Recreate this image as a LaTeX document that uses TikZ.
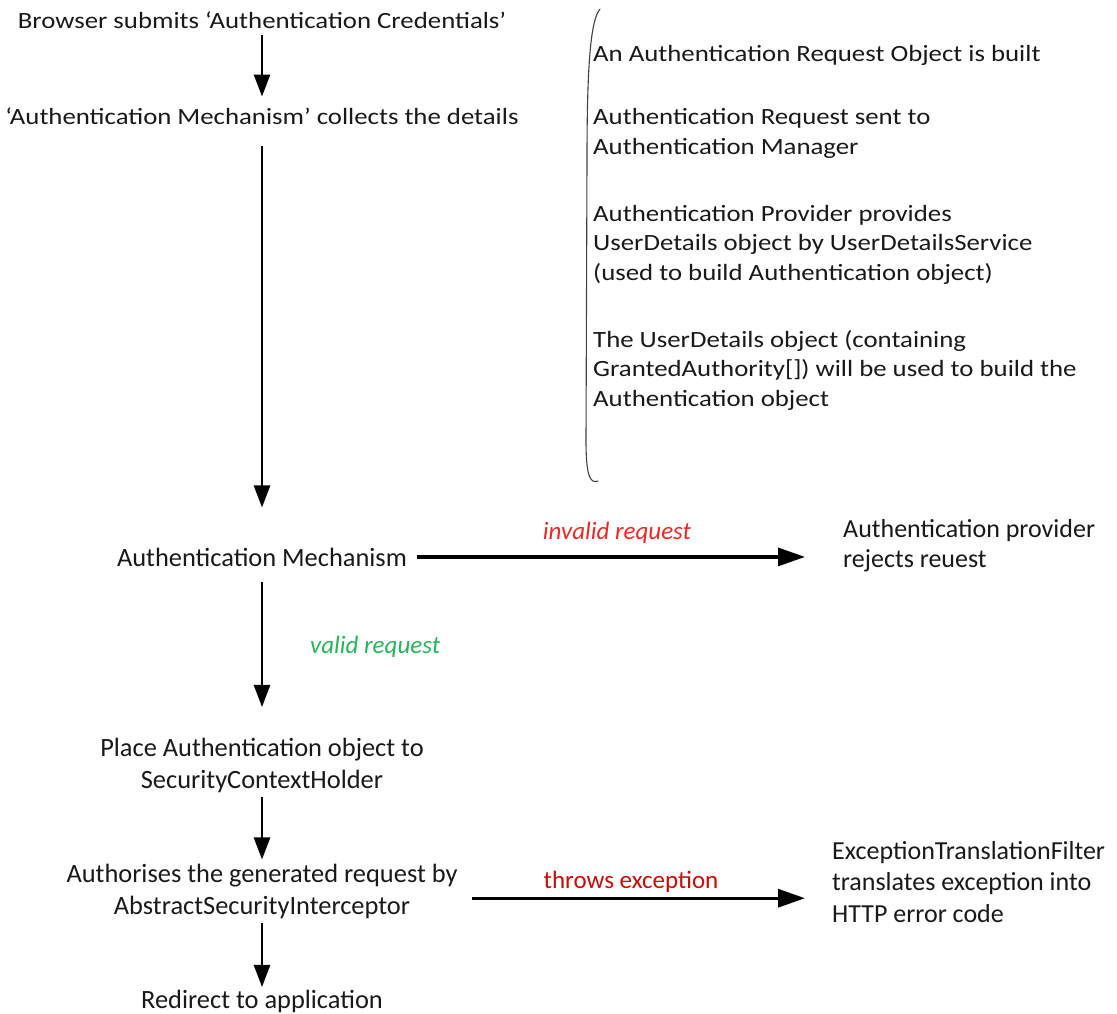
\documentclass[tikz,border=0pt]{standalone}
\usepackage{fontspec}
\setmainfont{Carlito}
\newfontfamily\widefont{Carlito}[FakeStretch=1.15]
\usetikzlibrary{arrows.meta}
\definecolor{invred}{RGB}{235,40,40}
\definecolor{excred}{RGB}{200,10,10}
\definecolor{okgreen}{RGB}{40,180,90}
\definecolor{txt}{RGB}{25,25,25}
\begin{document}
\begin{tikzpicture}[x=1pt,y=-1pt,
  % multi-line nodes are placed by the baseline of their last line
  upper/.style={inner sep=0pt, text=txt, font=\widefont\fontsize{23.3}{29.5}\selectfont, align=center, anchor=base},
  upperl/.style={upper, align=left, anchor=base west},
  lower/.style={inner sep=0pt, text=txt, font=\fontsize{26.4}{31.5}\selectfont, align=center, anchor=base},
  lowerl/.style={lower, align=left, anchor=base west},
  vflow/.style={line width=2.6pt, -{Triangle[length=22pt,width=16pt]}},
  hflow/.style={line width=3.2pt, -{Triangle[length=27pt,width=18pt]}},
  tag/.style={inner sep=0pt, font=\fontsize{25}{29}\selectfont}]
\useasboundingbox (0,0) rectangle (1117,1013);

% main column
\node[upper] (browser) at (262,28) {Browser submits ‘Authentication Credentials’};
\node[upper] (collect) at (262,124.5) {‘Authentication Mechanism’ collects the details};
\node[lower] (mech) at (262,566) {Authentication Mechanism};
\node[lower] (place) at (262,788) {Place Authentication object to\\SecurityContextHolder};
\node[lower] (authz) at (262,914) {Authorises the generated request by\\AbstractSecurityInterceptor};
\node[lower] (redirect) at (262,1008) {Redirect to application};

% outcomes on the right
\node[lowerl, font=\fontsize{26}{29.5}\selectfont] (reject) at (843,567) {Authentication provider\\rejects reuest};
\node[lowerl, font=\fontsize{26}{31.5}\selectfont] (etf) at (832,922) {ExceptionTranslationFilter\\translates exception into\\HTTP error code};

% notes beside the brace
\node[upperl] (note1) at (593,61) {An Authentication Request Object is built};
\node[upperl] (note2) at (593,154) {Authentication Request sent to\\Authentication Manager};
\node[upperl] (note3) at (593,280) {Authentication Provider provides\\UserDetails object by UserDetailsService\\(used to build Authentication object)};
\node[upperl] (note4) at (593,406) {The UserDetails object (containing\\GrantedAuthority[]) will be used to build the\\Authentication object};

% brace
\draw[line width=1.1pt, black!75, line cap=round]
  (600,9) .. controls (591,20) and (587,60) .. (587,160)
  -- (586,440) .. controls (586,476) and (590,484) .. (598,481);

% vertical flow
\draw[vflow, shorten <=7pt, shorten >=11pt] (browser.south) -- (collect.north);
\draw[vflow, shorten <=21pt, shorten >=40pt] (collect.south) -- (mech.north);
\draw[vflow, shorten <=16pt, shorten >=31pt] (mech.south) -- (place.north);
\draw[vflow, shorten <=5pt, shorten >=4.5pt] (place.south) -- (authz.north);
\draw[vflow, shorten <=4.7pt, shorten >=2.5pt] (authz.south) -- (redirect.north);

% horizontal branches
\draw[hflow, shorten <=10pt, shorten >=38pt] (mech.east) -- (mech.east -| reject.west);
\draw[hflow, shorten <=14pt, shorten >=27pt] ([yshift=-7pt]authz.east) -- ([yshift=-7pt]authz.east -| etf.west);

% branch labels
\node[tag, text=invred, font=\fontsize{25}{29}\selectfont\itshape] (invalid) at (617,533) {invalid request};
\node[tag, text=excred] (throws) at (631,882) {throws exception};
\node[tag, anchor=west, text=okgreen, font=\fontsize{25}{29}\selectfont\itshape] (valid) at (310,647) {valid request};
\end{tikzpicture}
\end{document}
